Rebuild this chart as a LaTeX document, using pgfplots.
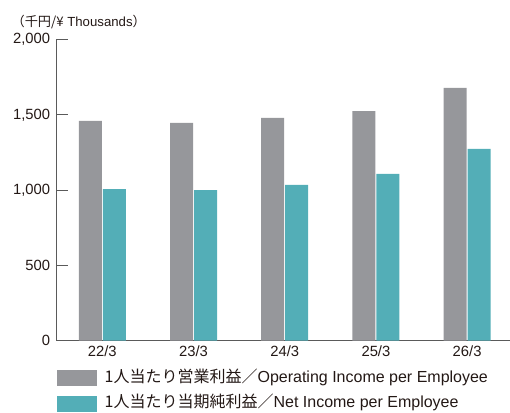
\documentclass[border=0pt]{standalone}
\usepackage{pgfplots}
\pgfplotsset{compat=1.18}
\usepackage{fontspec}
\setmainfont{Liberation Sans}
\newfontfamily\cjk{Noto Sans CJK JP}
\definecolor{opgray}{HTML}{96979B}
\definecolor{netteal}{HTML}{53AEB7}
\definecolor{txt}{HTML}{231815}
\definecolor{axline}{HTML}{5A5A5A}
\begin{document}
\begin{tikzpicture}
\useasboundingbox (-56.7pt,-71.3pt) rectangle (453.3pt,340.7pt);
\begin{axis}[
  scale only axis,
  width=453.3pt, height=301.2pt,
  ybar=1pt, bar width=23pt,
  xmin=-0.5, xmax=4.47,
  ymin=0, ymax=2000,
  axis lines=left,
  axis line style={-, axline, line width=0.8pt},
  xtick={0,1,2,3,4},
  xticklabels={22/3,23/3,24/3,25/3,26/3},
  x tick style={draw=none},
  ytick={0,500,1000,1500,2000},
  y tick style={axline, line width=0.8pt},
  tick align=inside,
  major tick length=11pt,
  /pgf/number format/.cd, 1000 sep={,}, assume math mode=true,
  /pgfplots/.cd,
  ticklabel style={font=\fontsize{14.8}{17}\selectfont, text=txt},
  yticklabel style={xshift=-3pt},
  xticklabel style={yshift=-2pt},
  legend style={at={(0,-0.1662)}, anchor=west, draw=none, fill=none,
    inner sep=0pt, outer sep=0pt, row sep=9.5pt, column sep=8pt,
    font=\fontsize{16}{18}\selectfont, text=txt,
    nodes={inner sep=0pt, text height=12pt, text depth=3.5pt}},
  legend cell align=left,
  clip=false,
]
\addplot[fill=opgray, draw=none,
  legend image code/.code={\fill[opgray] (0pt,-8pt) rectangle (40pt,8pt);}]
  coordinates {(0,1459) (1,1446) (2,1479) (3,1525) (4,1678)};
\addlegendentry{{\cjk 1人当たり営業利益／}Operating Income per Employee}
\addplot[fill=netteal, draw=none,
  legend image code/.code={\fill[netteal] (0pt,-8pt) rectangle (40pt,8pt);}]
  coordinates {(0,1007) (1,1000) (2,1034) (3,1107) (4,1273)};
\addlegendentry{{\cjk 1人当たり当期純利益／}Net Income per Employee}
\node[anchor=west, inner sep=0pt, text=txt, font=\fontsize{13.2}{15}\selectfont]
  at (rel axis cs:-0.1, 1.058) {{\cjk （千円/¥} Thousands{\cjk ）}};
\end{axis}
\end{tikzpicture}
\end{document}
